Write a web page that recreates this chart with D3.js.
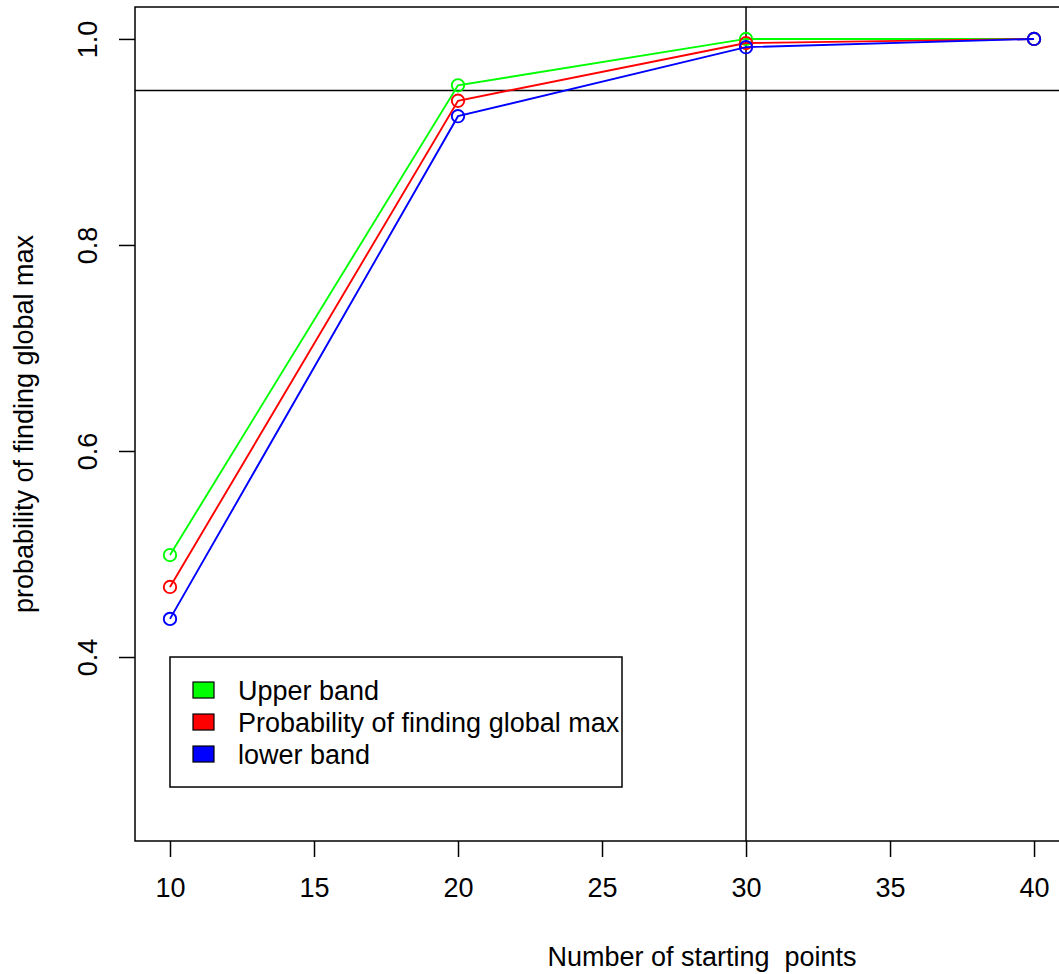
<!DOCTYPE html>
<html>
<head>
<meta charset="utf-8">
<script src="https://cdn.jsdelivr.net/npm/d3@7"></script>
<style>
  body { margin: 0; background: #fff; }
  text { font-family: "Liberation Sans", Arial, sans-serif; fill: #000; }
</style>
</head>
<body>
<script>
var starts = [10, 20, 30, 40];
var upperBand = [0.499, 0.955, 1.0, 1.0];
var probGlobal = [0.468, 0.940, 0.996, 1.0];
var lowerBand = [0.437, 0.925, 0.992, 1.0];
var xTicks = [10, 15, 20, 25, 30, 35, 40];
var yTicks = [0.4, 0.6, 0.8, 1.0];
var legendLabels = ["Upper band", "Probability of finding global max", "lower band"];
var legendColors = ["#00ff00", "#ff0000", "#0000ff"];
var refY = 0.95, refX = 30;

var dim = { width: 1059, height: 974, left: 135, top: 7, bottom: 841, right: 1068.6 };

var x = d3.scaleLinear().domain([8.785, 41.2]).range([dim.left, dim.right]);
var y = d3.scaleLinear().domain([0.2214, 1.031]).range([dim.bottom, dim.top]);

var svg = d3.select("body").append("svg")
    .attr("width", dim.width)
    .attr("height", dim.height);

// plot box
svg.append("rect")
    .attr("x", dim.left).attr("y", dim.top)
    .attr("width", dim.right - dim.left).attr("height", dim.bottom - dim.top)
    .attr("fill", "none").attr("stroke", "#000").attr("stroke-width", 1.5);

// x axis
var xAxis = d3.axisBottom(x).tickValues(xTicks).tickSize(16).tickPadding(21).tickFormat(d3.format("d"));
var gx = svg.append("g").attr("transform", "translate(0," + dim.bottom + ")").call(xAxis);
gx.select(".domain").remove();
gx.selectAll("line").attr("stroke-width", 1.5);
gx.selectAll("text").style("font-size", "27px");

// y axis
var yAxis = d3.axisLeft(y).tickValues(yTicks).tickSize(16).tickFormat(d3.format(".1f"));
var gy = svg.append("g").attr("transform", "translate(" + dim.left + ",0)").call(yAxis);
gy.select(".domain").remove();
gy.selectAll("line").attr("stroke-width", 1.5);
gy.selectAll("text")
    .attr("x", null).attr("dy", null)
    .attr("text-anchor", "middle")
    .attr("transform", "translate(-38,0) rotate(-90)")
    .style("font-size", "27px");

// reference lines
svg.append("line")
    .attr("x1", dim.left).attr("x2", dim.right)
    .attr("y1", y(refY)).attr("y2", y(refY))
    .attr("stroke", "#000").attr("stroke-width", 1.5);
svg.append("line")
    .attr("x1", x(refX)).attr("x2", x(refX))
    .attr("y1", dim.top).attr("y2", dim.bottom)
    .attr("stroke", "#000").attr("stroke-width", 1.5);

// series
var series = [upperBand, probGlobal, lowerBand];
var line = d3.line().x(function(d, i) { return x(starts[i]); }).y(function(d) { return y(d); });

series.forEach(function(vals, k) {
    var g = svg.append("g");
    g.append("path").datum(vals)
        .attr("d", line)
        .attr("fill", "none")
        .attr("stroke", legendColors[k])
        .attr("stroke-width", 1.9);
    g.selectAll("circle").data(vals).enter().append("circle")
        .attr("cx", function(d, i) { return x(starts[i]); })
        .attr("cy", function(d) { return y(d); })
        .attr("r", 6.2)
        .attr("fill", "none")
        .attr("stroke", legendColors[k])
        .attr("stroke-width", 1.9);
});

// legend, top-left at (10, 0.4)
var lx = x(10), ly = y(0.4);
var legend = svg.append("g");
legend.append("rect")
    .attr("x", lx).attr("y", ly)
    .attr("width", 452).attr("height", 130)
    .attr("fill", "#fff").attr("stroke", "#000").attr("stroke-width", 1.5);
legendLabels.forEach(function(lab, i) {
    var cy = ly + 33 + i * 32;
    legend.append("rect")
        .attr("x", lx + 23).attr("y", cy - 8)
        .attr("width", 21).attr("height", 16)
        .attr("fill", legendColors[i]).attr("stroke", "#000").attr("stroke-width", 1.2);
    legend.append("text")
        .attr("x", lx + 68).attr("y", cy + 9.5)
        .style("font-size", "27px")
        .text(lab);
});

// axis titles
svg.append("text")
    .attr("x", 702).attr("y", 966)
    .attr("text-anchor", "middle")
    .style("font-size", "27px")
    .style("white-space", "pre")
    .attr("xml:space", "preserve")
    .text("Number of starting  points");

svg.append("text")
    .attr("transform", "translate(33," + ((dim.top + dim.bottom) / 2) + ") rotate(-90)")
    .attr("text-anchor", "middle")
    .style("font-size", "27px")
    .text("probability of finding global max");
</script>
</body>
</html>
